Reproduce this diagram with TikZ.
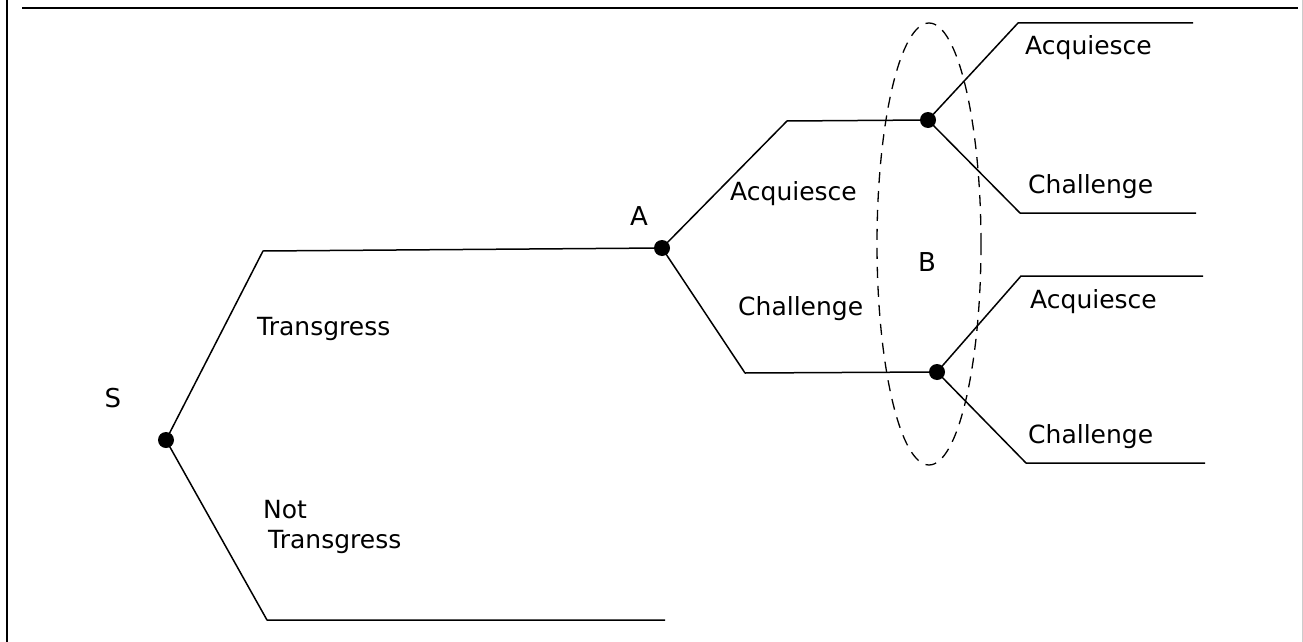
\documentclass[tikz,border=0pt]{standalone}
\usepackage{fontspec}
\usetikzlibrary{shapes.geometric}
\setmainfont{DejaVu Sans}
\tikzset{
  decision/.style={circle, fill=black, draw=none, minimum size=16pt, inner sep=0pt},
  branch/.style={line width=1.5pt, line join=round},
  lbl/.style={anchor=base west, inner sep=0pt, font=\fontsize{25}{30}\selectfont},
  player/.style={anchor=center, inner sep=0pt, font=\fontsize{26}{30}\selectfont},
  infoset/.style={line width=1.3pt, dash pattern=on 11pt off 8pt},
  frame/.style={line width=1.6pt}
}
\begin{document}
\begin{tikzpicture}[x=1pt, y=-1pt]
  \useasboundingbox (0,0) rectangle (1303,642);
  % frame of the figure
  \coordinate (fTL) at (7,0);
  \coordinate (fBL) at (7,642);
  \coordinate (tL) at (22,8);
  \coordinate (tR) at (1298,8);
  \coordinate (rT) at (1302,0);
  \coordinate (rB) at (1302,642);
  \draw[frame] (fTL) -- (fBL);
  \draw[frame] (tL) -- (tR);
  \draw[line width=1pt, black!20] (rT) -- (rB);

  % decision nodes
  \node[decision] (S)  at (166,440) {};
  \node[decision] (A)  at (662,248) {};
  \node[decision] (B1) at (928,120) {};
  \node[decision] (B2) at (937,372) {};

  % corners and loose ends of the branches
  \coordinate (sUp)   at (263,251);
  \coordinate (sDn)   at (267,620);
  \coordinate (sDnE)  at (665,620);
  \coordinate (aUp)   at (787,121);
  \coordinate (aDn)   at (745,373);
  \coordinate (b1Up)  at (1018,23);
  \coordinate (b1UpE) at (1193,23);
  \coordinate (b1Dn)  at (1020,213);
  \coordinate (b1DnE) at (1196,213);
  \coordinate (b2Up)  at (1021,276);
  \coordinate (b2UpE) at (1203,276);
  \coordinate (b2Dn)  at (1026,463);
  \coordinate (b2DnE) at (1205,463);

  % branches
  \draw[branch] (S.center) -- (sUp) -- (A.center);
  \draw[branch] (S.center) -- (sDn) -- (sDnE);
  \draw[branch] (A.center) -- (aUp) -- (B1.center);
  \draw[branch] (A.center) -- (aDn) -- (B2.center);
  \draw[branch] (B1.center) -- (b1Up) -- (b1UpE);
  \draw[branch] (B1.center) -- (b1Dn) -- (b1DnE);
  \draw[branch] (B2.center) -- (b2Up) -- (b2UpE);
  \draw[branch] (B2.center) -- (b2Dn) -- (b2DnE);

  % information set of player B
  \node[infoset, draw, ellipse, minimum width=104pt, minimum height=442pt, inner sep=0pt] (Bset) at (929,244) {};

  % player labels
  \node[player] (lS) at (113,398) {S};
  \node[player] (lA) at (639,216) {A};
  \node[player] (lB) at (927,262) {B};

  % move labels
  \node[lbl] (mT)   at (257,335) {Transgress};
  \node[lbl] (mN1)  at (263,518) {Not};
  \node[lbl] (mN2)  at (268,548) {Transgress};
  \node[lbl] (mAa)  at (730,200) {Acquiesce};
  \node[lbl] (mAc)  at (738,315) {Challenge};
  \node[lbl] (mB1a) at (1025,55) {Acquiesce};
  \node[lbl] (mB1c) at (1028,193) {Challenge};
  \node[lbl] (mB2a) at (1030,308) {Acquiesce};
  \node[lbl] (mB2c) at (1028,443) {Challenge};
\end{tikzpicture}
\end{document}
